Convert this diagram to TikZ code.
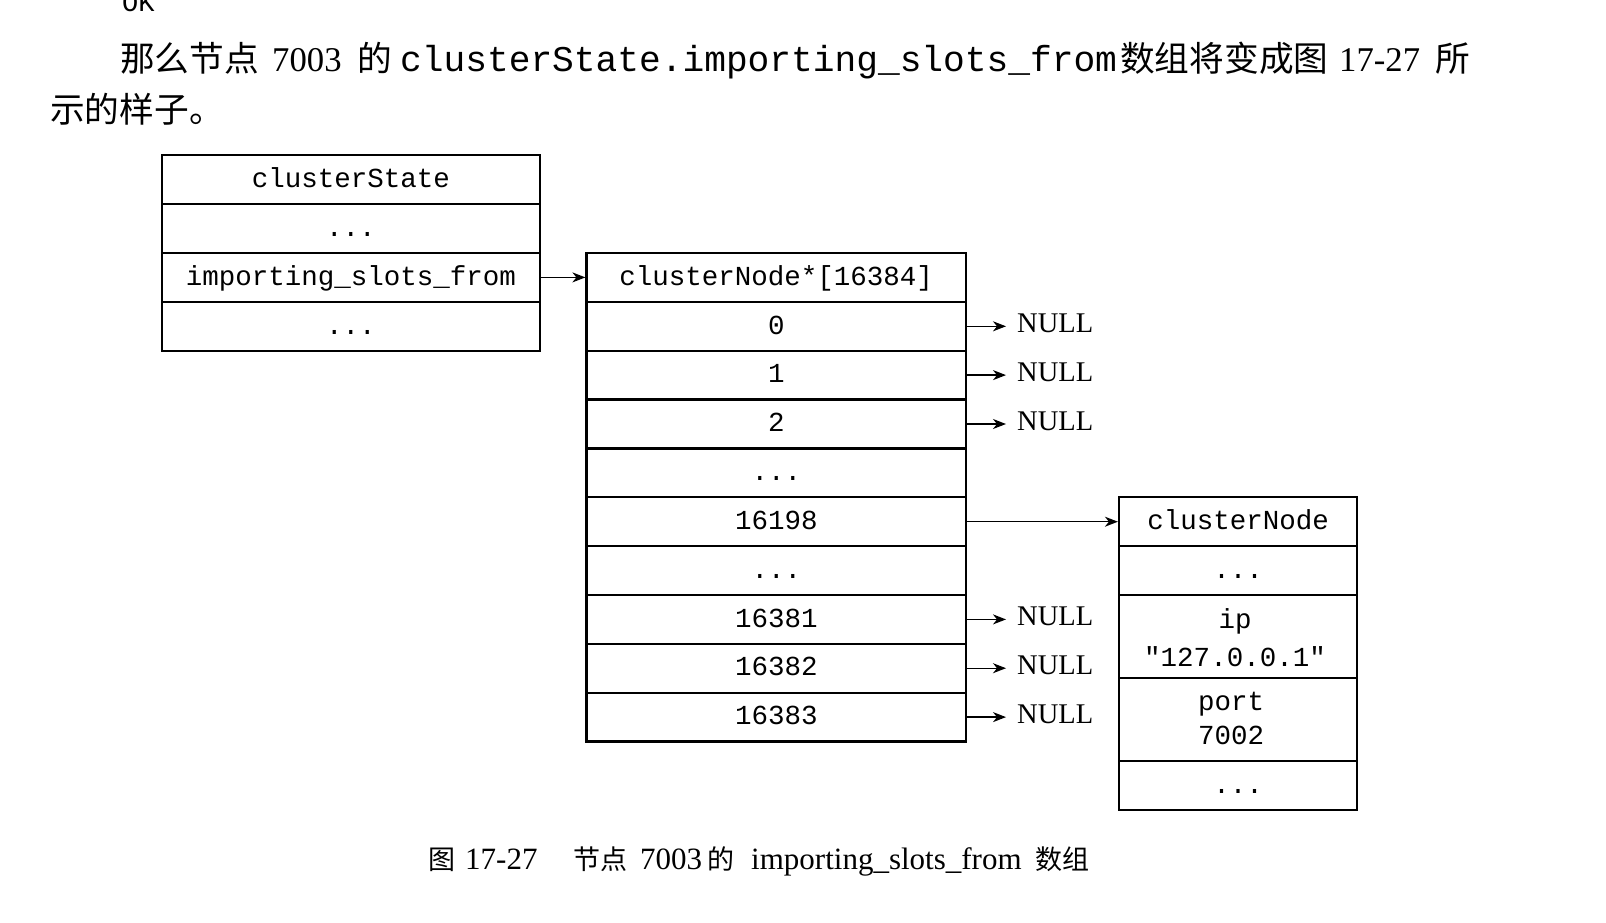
\documentclass[tikz,border=0pt]{standalone}
\usepackage{fontspec}
\setmainfont{Liberation Serif}
\setmonofont{Liberation Mono}
\newfontfamily\cjk{Noto Sans CJK SC}
\usetikzlibrary{arrows.meta}
\begin{document}
\begin{tikzpicture}[x=1pt,y=-1pt,
  cellbox/.style={draw, line width=2.2pt, inner sep=0pt,
    font=\fontsize{27.5}{30}\selectfont\ttfamily, text height=15.5pt, text depth=0pt},
  csbox/.style={cellbox, minimum width=378pt, minimum height=48.85pt},
  arrbox/.style={cellbox, minimum width=379.5pt, minimum height=48.85pt},
  cnbox/.style={cellbox, minimum width=238pt},
  celltext/.style={inner sep=0pt, anchor=base, font=\fontsize{27.5}{30}\selectfont\ttfamily},
  nulltext/.style={anchor=base west, inner xsep=11pt, inner ysep=0pt, font=\fontsize{28.5}{30}\selectfont},
  arr/.style={line width=1.4pt, -{Stealth[length=13pt,width=10pt,inset=4pt]}},
  bodycjk/.style={anchor=base west, inner sep=0pt, font=\fontsize{34.7}{40}\selectfont\cjk},
  bodylat/.style={anchor=base west, inner sep=0pt, font=\fontsize{34.7}{40}\selectfont},
  bodymono/.style={anchor=base west, inner sep=0pt, font=\fontsize{36.2}{40}\selectfont\ttfamily},
  capcjk/.style={anchor=base west, inner sep=0pt, font=\fontsize{27}{30}\selectfont\cjk},
  caplat/.style={anchor=base west, inner sep=0pt, font=\fontsize{31}{34}\selectfont}]
\useasboundingbox (0,0) rectangle (1606,922);
\clip (0,0) rectangle (1606,922);

% surrounding text
\node[anchor=base west, inner sep=0pt, font=\fontsize{27}{30}\selectfont\ttfamily] (ok) at (122,11) {OK};
\node[bodycjk] (t1) at (120,71) {那么节点};
\node[bodylat] (t2) at (272,71) {7003};
\node[bodycjk] (t3) at (357,71) {的};
\node[bodymono] (t4) at (400,71) {clusterState.importing\_slots\_from};
\node[bodycjk] (t5) at (1120,71) {数组将变成图};
\node[bodylat] (t6) at (1339,71) {17-27};
\node[bodycjk] (t7) at (1435,71) {所};
\node[bodycjk] (t8) at (50,122) {示的样子。};

% clusterState
\node[csbox] (cs0) at (351,179.7) {clusterState};
\node[csbox] (cs1) at (351,228.6) {...};
\node[csbox] (cs2) at (351,277.4) {importing\_slots\_from};
\node[csbox] (cs3) at (351,326.3) {...};

% array
\node[arrbox] (a0) at (776.25,277.4) {clusterNode*[16384]};
\node[arrbox] (a1) at (776.25,326.3) {0};
\node[arrbox] (a2) at (776.25,375.1) {1};
\node[arrbox] (a3) at (776.25,424.0) {2};
\node[arrbox] (a4) at (776.25,472.8) {...};
\node[arrbox] (a5) at (776.25,521.7) {16198};
\node[arrbox] (a6) at (776.25,570.5) {...};
\node[arrbox] (a7) at (776.25,619.4) {16381};
\node[arrbox] (a8) at (776.25,668.2) {16382};
\node[arrbox] (a9) at (776.25,717.1) {16383};

% NULLs
\node[nulltext] (n1) at (1006,332.3) {NULL};
\node[nulltext] (n2) at (1006,381.1) {NULL};
\node[nulltext] (n3) at (1006,430.0) {NULL};
\node[nulltext] (n7) at (1006,625.4) {NULL};
\node[nulltext] (n8) at (1006,674.2) {NULL};
\node[nulltext] (n9) at (1006,723.1) {NULL};

% clusterNode
\node[cnbox, minimum height=48.85pt] (cn0) at (1238,521.7) {clusterNode};
\node[cnbox, minimum height=48.85pt] (cn1) at (1238,570.5) {...};
\node[cnbox, minimum height=83pt] (cn2) at (1238,636.5) {};
\node[cnbox, minimum height=83pt] (cn3) at (1238,719.5) {};
\node[cnbox, minimum height=49pt] (cn4) at (1238,785.5) {...};
\node[celltext] (ipl) at (1235,628) {ip};
\node[celltext] (ipv) at (1235,666) {"127.0.0.1"};
\node[celltext] (pl) at (1231,710) {port};
\node[celltext] (pv) at (1231,744) {7002};

% arrows
\draw[arr] (cs2.east) -- (a0.west);
\foreach \r/\n in {a1/n1,a2/n2,a3/n3,a7/n7,a8/n8,a9/n9}
  \draw[arr] (\r.east) -- (\r.east -| \n.west);
\draw[arr] (a5.east) -- (cn0.west);

% caption
\node[capcjk] (c1) at (428,869) {图};
\node[caplat] (c2) at (465,869) {17-27};
\node[capcjk] (c3) at (573,869) {节点};
\node[caplat] (c4) at (640,869) {7003};
\node[capcjk] (c5) at (707,869) {的};
\node[caplat] (c6) at (751,869) {importing\_slots\_from};
\node[capcjk] (c7) at (1035,869) {数组};
\end{tikzpicture}
\end{document}
